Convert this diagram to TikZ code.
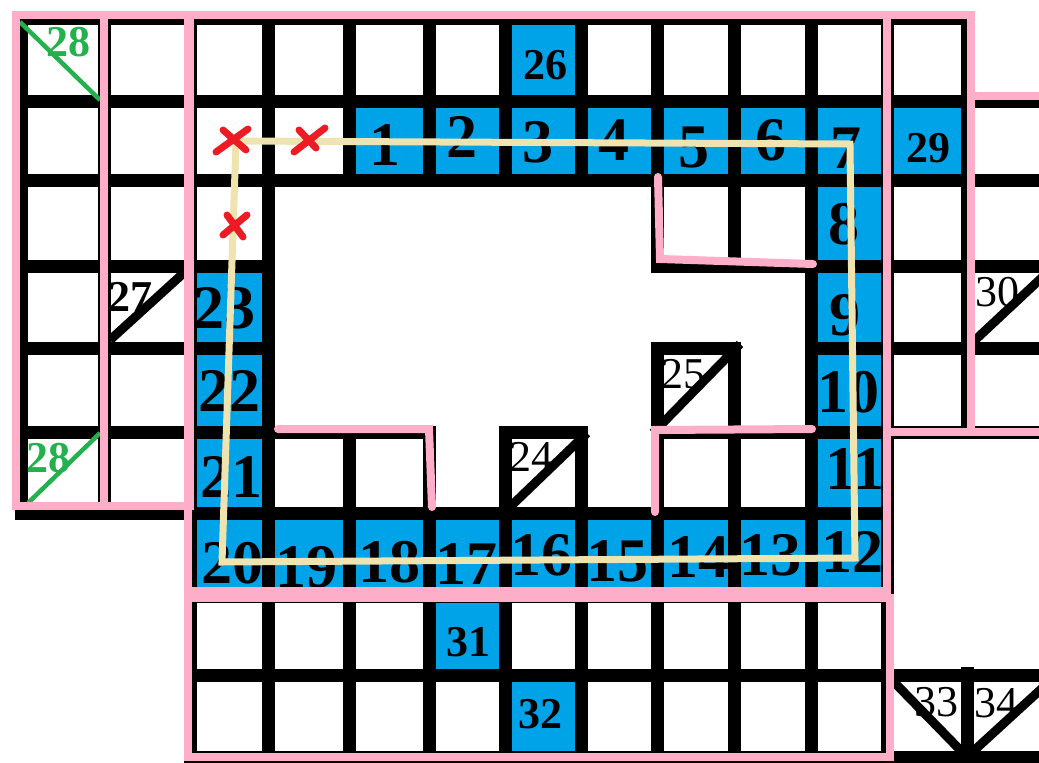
\documentclass[tikz,border=0pt]{standalone}
\usepackage{fontspec}
\setmainfont{Liberation Serif}

\definecolor{celeste}{HTML}{00A2E8}
\definecolor{rosa}{HTML}{FFAEC9}
\definecolor{crema}{HTML}{EFE4B0}
\definecolor{verde}{HTML}{22B14C}
\definecolor{rojo}{HTML}{ED1C24}

% bordes de columnas y filas de la cuadricula
\def\colx{{21,104,190,268,349,429,505,581,657,734,811,887,967,1050}}
\def\filay{{18,101,180,266,348,432,513,596,675,757}}

% casilla (columna, fila, relleno)
\newcommand{\celda}[3]{%
  \pgfmathsetmacro{\xa}{\colx[#1]}%
  \pgfmathsetmacro{\xb}{\colx[#1+1]}%
  \pgfmathsetmacro{\ya}{\filay[#2]}%
  \pgfmathsetmacro{\yb}{\filay[#2+1]}%
  \draw[casilla, fill=#3] (\xa,\ya) rectangle (\xb,\yb);}

\begin{document}
\begin{tikzpicture}[x=1pt, y=-1pt,
    casilla/.style={draw=black, line width=13pt},
    diagonal/.style={draw=black, line width=9pt},
    diagverde/.style={draw=verde, line width=4.5pt},
    marco/.style={draw=rosa, line width=8pt, line cap=round},
    ruta/.style={draw=crema, line width=7pt},
    aspa/.style={draw=rojo, line width=7pt, line cap=round},
    grande/.style={font=\fontsize{62}{62}\selectfont\bfseries, inner sep=0pt},
    medio/.style={font=\fontsize{44}{44}\selectfont\bfseries, inner sep=0pt},
    chico/.style={font=\fontsize{44}{44}\selectfont, inner sep=0pt}]

  \useasboundingbox (0,0) rectangle (1039,763);

  % --- CUADRICULA ---
  \foreach \c in {0,1,2,3,4,5,7,8,9,10,11} {\celda{\c}{0}{white}}
  \celda{6}{0}{celeste}
  \foreach \c in {0,1,2,3,12} {\celda{\c}{1}{white}}
  \foreach \c in {4,5,6,7,8,9,10,11} {\celda{\c}{1}{celeste}}
  \foreach \c in {0,1,2,8,9,11,12} {\celda{\c}{2}{white}}
  \foreach \c in {0,1,11,12} {\celda{\c}{3}{white}}
  \foreach \c in {0,1,8,11,12} {\celda{\c}{4}{white}}
  \foreach \c in {0,1,3,4,6,8,9} {\celda{\c}{5}{white}}
  \foreach \r in {3,4,5} {\celda{2}{\r}{celeste}}
  \foreach \r in {2,3,4,5} {\celda{10}{\r}{celeste}}
  \foreach \c in {2,...,10} {\celda{\c}{6}{celeste}}
  % bloque inferior
  \foreach \c in {2,3,4,6,7,8,9,10} {\celda{\c}{7}{white}}
  \celda{5}{7}{celeste}
  \foreach \c in {2,3,4,5,7,8,9,10} {\celda{\c}{8}{white}}
  \celda{6}{8}{celeste}

  % triangulos abajo a la derecha
  \draw[casilla] (887,675) -- (1050,675);
  \draw[casilla] (893,757) -- (1050,757);
  \draw[casilla] (967,667) -- (967,763);

  % --- NUMEROS ---
  \foreach \t/\px/\py in {1/385/145, 2/462/137, 3/538/142, 4/614/140,
      5/694/148, 6/771/140, 7/846/148, 8/844/224, 9/845/315, 10/848/392,
      11/855/469, 12/852/552, 13/770/555, 14/698/557, 15/617/561,
      16/541/555, 17/466/564, 18/389/562, 19/306/567, 20/232/563,
      21/231/477, 22/229/391, 23/224/308}
    \node[grande] (n\t) at (\px,\py) {\t};
  \node[medio] (n26) at (545,65) {26};
  \node[medio] (n29) at (928,148) {29};
  \node[medio] (n31) at (468,642) {31};
  \node[medio] (n32) at (540,714) {32};
  \node[medio] (n27) at (130,297) {27};
  \node[chico] (n24) at (531,457) {24};
  \node[chico] (n25) at (683,374) {25};
  \node[chico] (n30) at (997,292) {30};
  \node[chico] (n33) at (936,702) {33};
  \node[chico] (n34) at (996,703) {34};
  \node[medio, text=verde] (n28a) at (68,42) {28};
  \node[medio, text=verde] (n28b) at (48,458) {28};

  % --- DIAGONALES ---
  \draw[diagonal] (110,340) -- (187,270);   % 27
  \draw[diagonal] (510,507) -- (587,433);   % 24
  \draw[diagonal] (653,433) -- (740,344);   % 25
  \draw[diagonal] (973,342) -- (1050,270);  % 30
  \draw[diagonal] (891,679) -- (967,757);   % 33
  \draw[diagonal] (967,757) -- (1050,681);  % 34
  \draw[diagverde] (20,22) -- (100,100);
  \draw[diagverde] (28,503) -- (100,433);

  % --- MARCOS ROSAS ---
  \draw[marco] (16,15) rectangle (190,506);
  \draw[marco] (104,15) -- (104,506);
  \draw[marco] (188,15) rectangle (887,591);
  \draw[marco] (887,15) -- (971,15) -- (971,432);
  \draw[marco] (887,432) -- (1045,432);
  \draw[marco] (971,96) -- (1045,96);
  \draw[marco] (188,598) rectangle (890,757);
  % tabiques interiores
  \draw[marco] (658,177) -- (660,259) -- (813,264);
  \draw[marco] (812,429) -- (655,430) -- (655,512);
  \draw[marco] (278,429) -- (429,429) -- (432,507);

  % --- RECORRIDO ---
  \coordinate (esq1) at (236,141);
  \coordinate (esq2) at (850,144);
  \coordinate (esq3) at (855,558);
  \coordinate (esq4) at (222,562);
  \draw[ruta] (esq1) -- (esq2) -- (esq3) -- (esq4) -- cycle;

  % aspas rojas
  \draw[aspa, shift={(232,141)}] (-16,11) -- (16,-12) (-9,-11) -- (14,9);
  \draw[aspa, shift={(309,140)}] (-15,12) -- (16,-12) (-10,-10) -- (7,8);
  \draw[aspa, shift={(235,225)}] (-12,10) -- (12,-10) (-8,-10) -- (8,12);

\end{tikzpicture}
\end{document}
